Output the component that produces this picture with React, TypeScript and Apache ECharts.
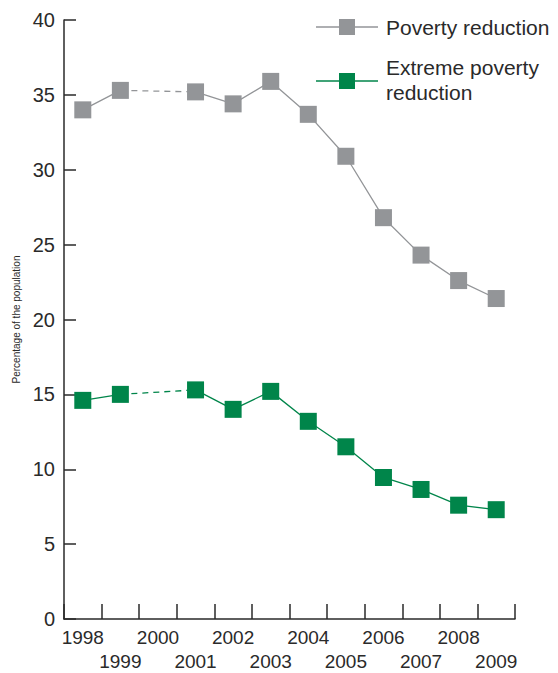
import React, { useEffect, useRef } from "react";
import * as echarts from "echarts";

const years = ["1998", "1999", "2000", "2001", "2002", "2003", "2004", "2005", "2006", "2007", "2008", "2009"];
const poverty = [34.0, 35.3, null, 35.2, 34.4, 35.9, 33.7, 30.9, 26.8, 24.3, 22.6, 21.4];
const extreme = [14.6, 15.0, null, 15.3, 14.0, 15.2, 13.2, 11.5, 9.45, 8.65, 7.6, 7.3];
const povertyGap = [null, 35.3, null, 35.2, null, null, null, null, null, null, null, null];
const extremeGap = [null, 15.0, null, 15.3, null, null, null, null, null, null, null, null];
const yTicks = [0, 5, 10, 15, 20, 25, 30, 35, 40];

const GRAY = "#939598";
const GREEN = "#00854a";
const INK = "#2a2a2a";
const FONT = "Liberation Sans";

export default function App() {
  const ref = useRef<HTMLDivElement>(null);
  useEffect(() => {
    const chart = echarts.init(ref.current!, null, { renderer: "svg" });
    chart.setOption({
      animation: false,
      textStyle: { fontFamily: FONT },
      grid: { left: 64, right: 43, top: 20, bottom: 52 },
      xAxis: {
        type: "category",
        data: years,
        boundaryGap: true,
        axisLine: { show: true, lineStyle: { color: INK, width: 1.5 } },
        axisTick: { show: true, inside: true, length: 15, lineStyle: { color: INK, width: 1.5 } },
        axisLabel: {
          interval: 0,
          color: INK,
          fontSize: 19,
          lineHeight: 24,
          margin: 6,
          verticalAlign: "top",
          formatter: (v: string, i: number) => (i % 2 ? "\n" + v : v),
        },
      },
      yAxis: {
        type: "value",
        min: yTicks[0],
        max: yTicks[yTicks.length - 1],
        interval: 5,
        name: "Percentage of the population",
        nameLocation: "middle",
        nameGap: 39,
        nameTextStyle: { fontSize: 10, color: INK, fontFamily: FONT },
        splitLine: { show: false },
        axisLine: { show: true, lineStyle: { color: INK, width: 1.5 } },
        axisTick: { show: true, inside: true, length: 12, lineStyle: { color: INK, width: 1.5 } },
        axisLabel: { color: INK, fontSize: 20, margin: 9 },
      },
      series: [
        {
          name: "Poverty reduction",
          type: "line",
          data: poverty,
          symbol: "rect",
          symbolSize: 17,
          itemStyle: { color: GRAY },
          lineStyle: { color: GRAY, width: 1.3 },
          z: 3,
        },
        {
          type: "line",
          data: povertyGap,
          connectNulls: true,
          showSymbol: false,
          symbol: "none",
          lineStyle: { color: GRAY, width: 1.3, type: [6, 5] },
          z: 2,
        },
        {
          name: "Extreme poverty reduction",
          type: "line",
          data: extreme,
          symbol: "rect",
          symbolSize: 17,
          itemStyle: { color: GREEN },
          lineStyle: { color: GREEN, width: 1.3 },
          z: 3,
        },
        {
          type: "line",
          data: extremeGap,
          connectNulls: true,
          showSymbol: false,
          symbol: "none",
          lineStyle: { color: GREEN, width: 1.3, type: [6, 5] },
          z: 2,
        },
      ],
      graphic: [
        { type: "line", shape: { x1: 316, y1: 27, x2: 378, y2: 27 }, style: { stroke: GRAY, lineWidth: 1.3 } },
        { type: "rect", shape: { x: 339, y: 19, width: 16, height: 16 }, style: { fill: GRAY } },
        {
          type: "text",
          x: 386,
          y: 27,
          style: { text: "Poverty reduction", font: `21px ${FONT}`, fill: INK, verticalAlign: "middle" },
        },
        { type: "line", shape: { x1: 316, y1: 81, x2: 378, y2: 81 }, style: { stroke: GREEN, lineWidth: 1.3 } },
        { type: "rect", shape: { x: 339, y: 73, width: 16, height: 16 }, style: { fill: GREEN } },
        {
          type: "text",
          x: 386,
          y: 80,
          style: {
            text: "Extreme poverty\nreduction",
            font: `21px ${FONT}`,
            lineHeight: 25,
            fill: INK,
            verticalAlign: "middle",
          },
        },
      ],
    });
    return () => chart.dispose();
  }, []);
  return (
    <div
      ref={ref}
      style={{ position: "absolute", left: 0, top: 0, width: 558, height: 673 }}
    />
  );
}
